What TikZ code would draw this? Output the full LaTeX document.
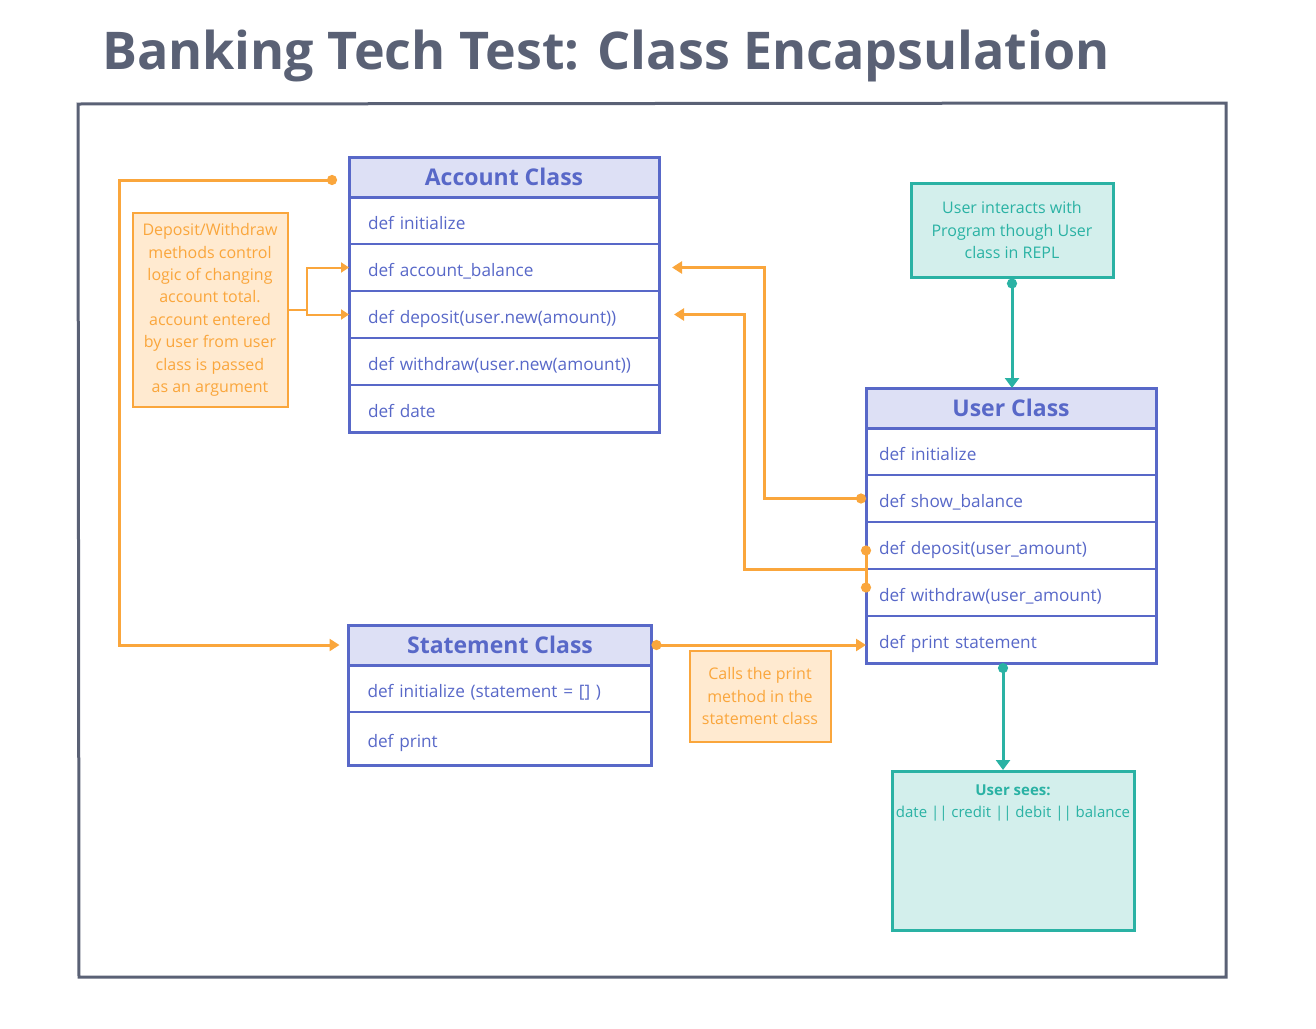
\documentclass[tikz,border=0pt]{standalone}
\usepackage{fontspec}
\setmainfont{Open Sans}
\usetikzlibrary{positioning, arrows.meta}
\definecolor{frame}{RGB}{90,97,117}
\definecolor{cblue}{RGB}{88,104,200}
\definecolor{cbluefill}{RGB}{221,224,245}
\definecolor{corange}{RGB}{250,166,60}
\definecolor{corangefill}{RGB}{255,234,208}
\definecolor{cteal}{RGB}{42,178,164}
\definecolor{ctealfill}{RGB}{211,239,236}

\begin{document}
\begin{tikzpicture}[x=1pt, y=-1pt,
  clshead/.style={draw=cblue, fill=cbluefill, line width=3pt, outer sep=0pt, minimum width=310pt, minimum height=40pt, text=cblue, font=\fontsize{23}{27}\selectfont\bfseries},
  clsrow/.style={draw=cblue, line width=1.5pt, outer sep=0pt, text width=272pt, inner xsep=19pt, inner ysep=0pt, text height=18pt, text depth=0pt, minimum height=47pt, align=left, text=cblue, font=\fontsize{17.2}{20}\selectfont},
  note/.style={draw=corange, fill=corangefill, line width=2pt, text=corange, align=center, inner sep=0pt, font=\fontsize{16}{22.4}\selectfont},
  tealbox/.style={draw=cteal, fill=ctealfill, line width=3pt, text=cteal, align=center, inner sep=0pt, font=\fontsize{16}{22.4}\selectfont},
  link/.style={corange, line width=3pt, -{Triangle[length=10pt,width=12pt]}},
  linkdot/.style={link, {Circle[length=10pt]}-{Triangle[length=10pt,width=12pt]}},
  tlink/.style={cteal, line width=3pt, {Circle[length=10pt]}-{Triangle[length=10pt,width=14pt]}}
]
\useasboundingbox (0,0) rectangle (1316,1028);

\node[text=frame, font=\fontsize{52}{60}\selectfont\bfseries] (title) at (606,56) {Banking Tech Test: Class Encapsulation};
\draw[frame, line width=3pt] (78,104) -- (1226,103) -- (1226,977) -- (79,977) -- cycle;

% account class
\node[clshead] (acc) at (504,177) {Account Class};
\node[clsrow, below=0pt of acc] (acc1) {def initialize};
\node[clsrow, below=0pt of acc1] (acc2) {def account\_balance};
\node[clsrow, below=0pt of acc2] (acc3) {def deposit(user.new(amount))};
\node[clsrow, below=0pt of acc3] (acc4) {def withdraw(user.new(amount))};
\node[clsrow, below=0pt of acc4] (acc5) {def date};
\draw[cblue, line width=3pt] (acc1.north west) rectangle (acc5.south east);

% user class
\node[clshead, minimum width=290pt] (usr) at (1011,408) {User Class};
\node[clsrow, text width=264pt, below=0pt of usr, inner xsep=13pt] (usr1) {def initialize};
\node[clsrow, text width=264pt, below=0pt of usr1, inner xsep=13pt] (usr2) {def show\_balance};
\node[clsrow, text width=264pt, below=0pt of usr2, inner xsep=13pt] (usr3) {def deposit(user\_amount)};
\node[clsrow, text width=264pt, below=0pt of usr3, inner xsep=13pt] (usr4) {def withdraw(user\_amount)};
\node[clsrow, text width=264pt, below=0pt of usr4, inner xsep=13pt] (usr5) {def print statement};
\draw[cblue, line width=3pt] (usr1.north west) rectangle (usr5.south east);

% statement class
\node[clshead, minimum width=303pt] (stm) at (500,645) {Statement Class};
\node[clsrow, text width=265pt, below=0pt of stm] (stm1) {def initialize (statement = [] )};
\node[clsrow, text width=265pt, minimum height=53pt, below=0pt of stm1] (stm2) {def print};
\draw[cblue, line width=3pt] (stm1.north west) rectangle (stm2.south east);

% notes
\node[note, minimum width=155pt, minimum height=194pt] (logic) at (210,310) {Deposit/Withdraw\\methods control\\logic of changing\\account total.\\account entered\\by user from user\\class is passed\\as an argument};
\node[note, minimum width=141pt, minimum height=91pt] (calls) at (760,696) {Calls the print\\method in the\\statement class};
\node[tealbox, minimum width=202pt, minimum height=94pt] (repl) at (1012,230) {User interacts with\\Program though User\\class in REPL};
\node[tealbox, minimum width=242pt, minimum height=159pt] (sees) at (1013,851) {};
\node[text=cteal, align=center, anchor=north, font=\fontsize{15}{22.4}\selectfont] (seestxt) at ([yshift=-11pt]sees.north) {\textbf{User sees:}\\date || credit || debit || balance};

% connectors
\draw[linkdot] ([xshift=-12pt,yshift=-3pt]acc.west) -- ++(-218,0) |- ([xshift=-9pt]stm.west);
\draw[corange, line width=2pt] (logic.east) -- ++(18,0) coordinate (fork);
\draw[corange, line width=2pt, -{Triangle[length=8pt,width=10pt]}] (fork) |- (acc2.west);
\draw[corange, line width=2pt, -{Triangle[length=8pt,width=10pt]}] (fork) |- (acc3.west);
\draw[linkdot] (usr2.west) -- ++(-102,0) |- ([xshift=13pt]acc2.east);
\draw[corange, line width=3pt, {Circle[length=10pt]}-{Circle[length=10pt]}] (usr3.west) -- (usr4.west);
\draw[link] (usr3.south west) -- ++(-122,0) |- ([xshift=15pt]acc3.east);
\draw[linkdot] (stm.east) -- (stm.east -| usr5.west);
\draw[tlink] (repl.south) -- (repl.south |- usr.north);
\draw[tlink] ([xshift=-8pt]usr5.south) -- ([xshift=-8pt]usr5.south |- sees.north);

\end{tikzpicture}
\end{document}
